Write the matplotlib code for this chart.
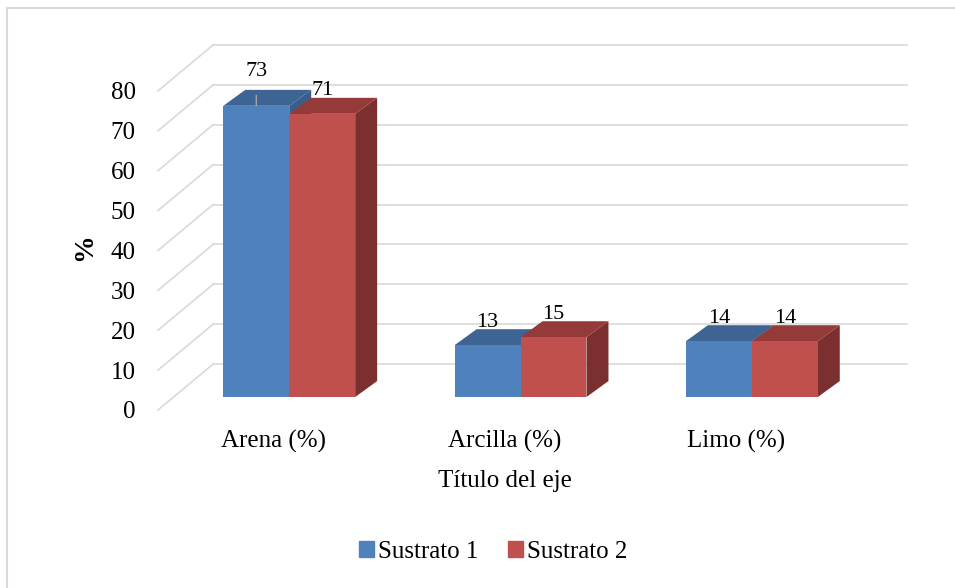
import numpy as np
import matplotlib.pyplot as plt
from matplotlib.patches import Polygon, Rectangle

categorias = ["Arena (%)", "Arcilla (%)", "Limo (%)"]
sustrato_1 = [73, 13, 14]
sustrato_2 = [71, 15, 14]
series = ["Sustrato 1", "Sustrato 2"]
yticks = [0, 10, 20, 30, 40, 50, 60, 70, 80]

plt.rcParams['font.family'] = ['Liberation Serif', 'DejaVu Serif']

W, H = 955, 588
fig = plt.figure(figsize=(W / 100, H / 100), dpi=100)

# pixel box of the plot area (front plane bottom-left to back wall top-right)
left, right, bottom, top = 158, 907, 410, 45
ax = fig.add_axes([left / W, (H - bottom) / H, (right - left) / W, (bottom - top) / H])

# oblique floor depth in data units
DX, DY = 0.238, 11.5
ax.set_xlim(-0.5, 2.5 + DX)
ax.set_ylim(0, 80 + DY)

grid_c = "#d9d9d9"
for v in yticks:
    ax.plot([-0.5, -0.5 + DX], [v, v + DY], color=grid_c, lw=1.2, zorder=1, clip_on=False)
    ax.plot([-0.5 + DX, 2.5 + DX], [v + DY, v + DY], color=grid_c, lw=1.2, zorder=1, clip_on=False)

colors = {
    "front": ["#4f81bd", "#c0504d"],
    "top": ["#3d6492", "#943a38"],
    "side": ["#3a5e8a", "#7b2f2e"],
}

bar_w = 0.285
d0 = 0.283               # bar front offset as fraction of the floor depth
bdx, bdy = 0.095, 4.0    # bar depth (x, y) in data units
x = np.arange(len(categorias))

for s, vals in enumerate([sustrato_1, sustrato_2]):
    for i, v in enumerate(vals):
        x0 = x[i] + (s - 1) * bar_w + d0 * DX
        y0 = d0 * DY
        x1 = x0 + bar_w
        side = Polygon([(x1, y0), (x1 + bdx, y0 + bdy), (x1 + bdx, y0 + v + bdy), (x1, y0 + v)],
                       closed=True, fc=colors["side"][s], ec="none", zorder=3 + s)
        topf = Polygon([(x0, y0 + v), (x1, y0 + v), (x1 + bdx, y0 + v + bdy), (x0 + bdx, y0 + v + bdy)],
                       closed=True, fc=colors["top"][s], ec="none", zorder=3 + s)
        ax.add_patch(side)
        ax.add_patch(topf)
        ax.bar(x0, v, width=bar_w, bottom=y0, align="edge",
               color=colors["front"][s], zorder=3 + s)

        # value label above the back edge of the top face
        cx = x0 + bar_w / 2
        lbl_y = y0 + v + bdy
        if s == 0 and i == 0:
            # moved up to clear the neighbouring label, with a leader line
            ax.annotate(str(v), xy=(cx, y0 + v), xytext=(cx, lbl_y + 4.5),
                        ha="center", va="center", fontsize=16, zorder=10,
                        arrowprops=dict(arrowstyle="-", color="#a6a6a6", lw=1,
                                        shrinkA=8, shrinkB=0))
        else:
            ax.annotate(str(v), xy=(cx, lbl_y), xytext=(0, 5), textcoords="offset points",
                        ha="center", va="center", fontsize=16, zorder=10)

ax.set_xticks(x)
ax.set_xticklabels(categorias, fontsize=18)
ax.set_yticks(yticks)
ax.set_yticklabels([str(t) for t in yticks], fontsize=18)
ax.tick_params(axis="x", length=0, pad=14)
ax.tick_params(axis="y", length=0, pad=16)
for sp in ax.spines.values():
    sp.set_visible(False)
ax.patch.set_alpha(0)

fig.text(85 / W, 1 - 247 / H, "%", rotation=90, fontsize=20, fontweight="bold",
         ha="center", va="center")
fig.text(505 / W, 1 - 481 / H, "Título del eje", fontsize=18, ha="center", va="center")

handles = [Rectangle((0, 0), 1, 1, color=c) for c in colors["front"]]
fig.legend(handles, series, loc="center", bbox_to_anchor=(493 / W, 1 - 552 / H), ncol=2,
           frameon=False, fontsize=18, handlelength=0.6, handleheight=0.6,
           handletextpad=0.15, columnspacing=1.2)

# chart area border
fig.patches.append(Rectangle((7 / W, -0.05), 1.1, (H - 8) / H + 0.05, transform=fig.transFigure,
                             fill=False, ec="#d9d9d9", lw=1.5, zorder=0))

fig.savefig("out.png", dpi=100)
